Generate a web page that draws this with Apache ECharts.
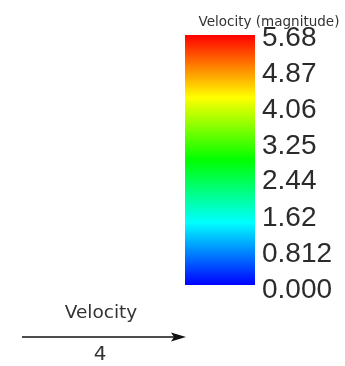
<!DOCTYPE html>
<html><head><meta charset="utf-8">
<script src="https://cdn.jsdelivr.net/npm/echarts@6/dist/echarts.min.js"></script>
<style>html,body{margin:0;padding:0;background:#fff}#c{width:345px;height:366px}</style>
</head><body><div id="c"></div>
<script>
const scalarName = 'Velocity (magnitude)';
const rangeMin = 0;
const rangeMax = 5.68;
const tickValues = [0, 0.812, 1.62, 2.44, 3.25, 4.06, 4.87, 5.68];
const tickLabels = ['0.000', '0.812', '1.62', '2.44', '3.25', '4.06', '4.87', '5.68'];
const colorStops = ['#0000ff', '#00ffff', '#00ff00', '#ffff00', '#ff0000'];
const glyphName = 'Velocity';
const glyphScale = '4';

const chart = echarts.init(document.getElementById('c'));
const FONT = 'DejaVu Sans';
const LFONT = 'Liberation Sans';
chart.setOption({
  animation: false,
  backgroundColor: '#fff',
  title: {
    text: scalarName, left: 264, top: 10, textAlign: 'center',
    textStyle: {fontFamily: FONT, fontSize: 13.5, fontWeight: 'normal', color: '#333'}
  },
  grid: [
    {left: 185, right: 90, top: 35, bottom: 81},
    {left: 185, right: 90, top: 38, bottom: 76}
  ],
  xAxis: [
    {type: 'category', data: [''], show: false, gridIndex: 0},
    {type: 'category', data: [''], show: false, gridIndex: 1}
  ],
  yAxis: [
    {type: 'value', gridIndex: 0, min: rangeMin, max: rangeMax, show: false},
    {
      type: 'value', gridIndex: 1, position: 'right', min: rangeMin, max: rangeMax,
      splitLine: {show: false}, axisLine: {show: false}, axisTick: {show: false},
      axisLabel: {
        customValues: tickValues,
        formatter: (v) => tickLabels[tickValues.indexOf(v)],
        fontFamily: LFONT, fontSize: 28, color: '#2b2b2b', margin: 7
      }
    }
  ],
  series: [{
    type: 'bar', data: [rangeMax], barWidth: '100%', xAxisIndex: 0, yAxisIndex: 0,
    itemStyle: {
      color: new echarts.graphic.LinearGradient(0, 1, 0, 0,
        colorStops.map((c, i) => ({offset: i / (colorStops.length - 1), color: c})))
    }
  }],
  graphic: [
    {type: 'text', x: 101, y: 313, style: {text: glyphName, fontFamily: FONT, fontSize: 18.5, fill: '#333', align: 'center', verticalAlign: 'middle'}},
    {type: 'line', shape: {x1: 22, y1: 337, x2: 176, y2: 337}, style: {stroke: '#111', lineWidth: 1.6}},
    {type: 'polygon', shape: {points: [[171, 332.5], [186, 337], [171, 341.5], [174, 337]]}, style: {fill: '#111'}},
    {type: 'text', x: 100, y: 355, style: {text: glyphScale, fontFamily: FONT, fontSize: 20, fill: '#333', align: 'center', verticalAlign: 'middle'}}
  ]
});
</script></body></html>
